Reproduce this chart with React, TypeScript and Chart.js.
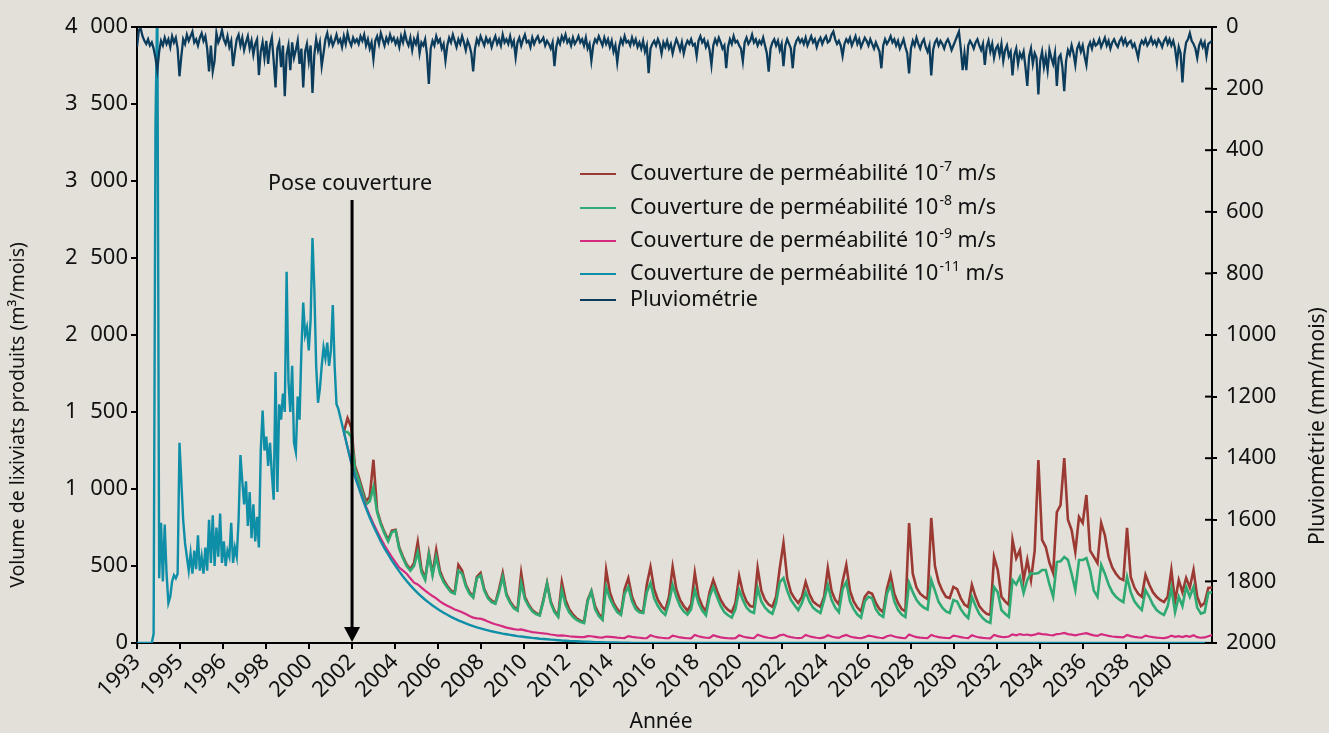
import React, { useEffect, useRef } from 'react';
import { Chart, registerables } from 'chart.js';

Chart.register(...registerables);

// ---------- DATA ----------
const TICK_LABELS = ['1993', '1995', '1996', '1998', '2000', '2002', '2004', '2006', '2008', '2010', '2012', '2014', '2016', '2018', '2020', '2022', '2024', '2026', '2028', '2030', '2032', '2034', '2036', '2038', '2040'];

// Pluviométrie (mm/mois), monthly samples from start of 1993
const RAIN = [
  65, 10, 5, 30, 45, 55, 40, 60, 50, 70, 100, 140, 80, 45, 60, 35, 55, 40, 65, 30,
  50, 35, 70, 160, 95, 40, 55, 25, 45, 30, 15, 50, 40, 60, 35, 20, 45, 30, 70, 144,
  60, 144, 110, 20, 50, 35, 10, 40, 55, 30, 65, 45, 127, 80, 40, 25, 60, 35, 75, 50,
  30, 70, 45, 90, 55, 40, 156, 80, 50, 100, 45, 120, 60, 35, 110, 196, 70, 50, 130, 60,
  225, 90, 60, 140, 50, 100, 75, 45, 120, 70, 196, 80, 55, 110, 60, 214, 90, 40, 75, 50,
  127, 85, 40, 20, 55, 35, 60, 45, 25, 50, 40, 65, 30, 55, 20, 45, 60, 35, 50, 40,
  55, 30, 45, 25, 60, 40, 70, 50, 104, 45, 30, 55, 20, 40, 60, 35, 50, 25, 45, 35,
  55, 40, 65, 30, 50, 20, 45, 60, 35, 75, 40, 55, 30, 85, 50, 60, 40, 90, 185, 70,
  45, 60, 30, 50, 40, 70, 55, 109, 60, 35, 50, 25, 45, 65, 40, 55, 30, 50, 75, 45,
  60, 85, 144, 70, 40, 55, 30, 45, 60, 35, 50, 40, 65, 45, 30, 55, 40, 60, 25, 50,
  40, 55, 30, 60, 45, 98, 50, 35, 60, 40, 25, 50, 45, 65, 35, 55, 40, 30, 50, 45,
  35, 60, 45, 55, 70, 50, 127, 65, 40, 55, 30, 45, 25, 50, 40, 60, 35, 55, 45, 30,
  50, 40, 60, 35, 70, 55, 109, 60, 40, 50, 30, 45, 60, 35, 55, 40, 65, 45, 80, 60,
  115, 65, 40, 55, 30, 50, 45, 60, 35, 55, 40, 65, 50, 70, 45, 80, 60, 150, 70, 55,
  45, 60, 40, 55, 86, 50, 65, 45, 70, 55, 86, 60, 40, 55, 75, 50, 86, 60, 45, 55,
  40, 60, 55, 94, 45, 30, 50, 40, 65, 50, 75, 123, 60, 40, 55, 35, 50, 70, 60, 134,
  65, 40, 55, 30, 50, 45, 60, 70, 111, 50, 35, 55, 45, 25, 50, 40, 60, 45, 55, 35,
  60, 85, 145, 70, 50, 40, 60, 45, 75, 55, 127, 60, 40, 55, 70, 134, 65, 45, 35, 50,
  40, 55, 35, 60, 45, 30, 50, 40, 65, 45, 35, 55, 40, 30, 50, 45, 25, 15, 40, 55,
  45, 60, 94, 55, 40, 50, 35, 60, 45, 30, 55, 40, 65, 50, 35, 45, 60, 40, 55, 70,
  50, 65, 80, 134, 60, 40, 55, 45, 30, 50, 40, 60, 45, 70, 55, 40, 65, 85, 151, 70,
  45, 60, 35, 55, 70, 50, 40, 65, 80, 60, 157, 75, 50, 40, 60, 45, 55, 70, 50, 40,
  55, 75, 60, 45, 30, 15, 70, 140, 85, 140, 60, 45, 55, 70, 50, 40, 60, 75, 55, 123,
  65, 45, 80, 55, 100, 70, 60, 90, 55, 110, 75, 60, 95, 80, 157, 90, 70, 120, 85, 100,
  80, 130, 191, 95, 70, 120, 85, 100, 219, 110, 80, 130, 95, 140, 75, 100, 120, 85, 191, 100,
  90, 130, 208, 110, 75, 90, 60, 85, 123, 70, 55, 80, 60, 95, 123, 65, 50, 70, 45, 60,
  55, 40, 65, 50, 35, 60, 45, 70, 50, 40, 55, 65, 45, 35, 55, 40, 60, 50, 45, 65,
  55, 75, 100, 60, 45, 55, 40, 60, 50, 35, 55, 45, 60, 40, 50, 65, 45, 35, 55, 40,
  60, 45, 70, 117, 65, 85, 180, 90, 50, 40, 20, 45, 55, 70, 100, 60, 45, 65, 50, 94,
  55, 50, 45,
];

// Leachate before the cover (m3/mois), monthly samples from start of 1993
const PRE_COVER = [
  0, 0, 0, 0, 0, 0, 0, 0, 0, 60,
  3350, 4200, 420, 780, 400, 770, 450, 260, 300, 400,
  440, 420, 450, 1300, 1050, 800, 650, 560, 470, 580,
  450, 600, 480, 700, 470, 560, 450, 620, 470, 800,
  520, 830, 500, 750, 560, 840, 520, 660, 500, 600,
  560, 780, 520, 620, 560, 800, 1220, 1050, 900, 1050,
  760, 980, 680, 900, 660, 820, 620, 1250, 1510, 1250,
  1340, 1150, 1300, 1100, 930, 1760, 980, 1550, 1450, 1620,
  1500, 2410, 1700, 1500, 1800, 1300, 1240, 1600, 1450, 1900,
  2210, 2000, 2050, 1900, 2100, 2630, 2300, 1800, 1560, 1650,
  1800, 1920, 1850, 1950, 1800, 1900, 2195, 1800, 1550, 1520,
  1470, 1420,
];

// After the cover: bimonthly samples, first one at bimonthly index COVER_START
const COVER_START = 56;

// Couverture 10^-11 m/s
const COVER_11 = [
  1370, 1270, 1170, 1080,
  1010, 940, 875, 815, 760, 710, 660, 615, 575, 535,
  500, 465, 432, 402, 374, 348, 324, 302, 281, 262,
  244, 227, 211, 196, 183, 170, 158, 147, 137, 127,
  118, 110, 102, 95, 88, 82, 76, 71, 66, 61,
  57, 53, 49, 45, 42, 39, 36, 33, 31, 28,
  26, 24, 22, 20, 18, 16, 15, 13, 12, 11,
  10, 9, 8, 7, 6, 5, 5, 4, 4, 3,
  3, 2, 2, 2, 1, 1, 1, 1, 1, 0,
  0, 0, 0, 0, 0, 0, 0, 0, 0, 0,
  0, 0, 0, 0, 0, 0, 0, 0, 0, 0,
  0, 0, 0, 0, 0, 0, 0, 0, 0, 0,
  0, 0, 0, 0, 0, 0, 0, 0, 0, 0,
  0, 0, 0, 0, 0, 0, 0, 0, 0, 0,
  0, 0, 0, 0, 0, 0, 0, 0, 0, 0,
  0, 0, 0, 0, 0, 0, 0, 0, 0, 0,
  0, 0, 0, 0, 0, 0, 0, 0, 0, 0,
  0, 0, 0, 0, 0, 0, 0, 0, 0, 0,
  0, 0, 0, 0, 0, 0, 0, 0, 0, 0,
  0, 0, 0, 0, 0, 0, 0, 0, 0, 0,
  0, 0, 0, 0, 0, 0, 0, 0, 0, 0,
  0, 0, 0, 0, 0, 0, 0, 0, 0, 0,
  0, 0, 0, 0, 0, 0, 0, 0, 0, 0,
  0, 0, 0, 0, 0, 0, 0, 0, 0, 0,
  0, 0, 0, 0, 0, 0, 0, 0, 0, 0,
  0, 0,
];

// Couverture 10^-9 m/s
const COVER_9 = [
  1370, 1270, 1170, 1085, 1015, 950, 885, 828, 775, 725,
  678, 635, 595, 558, 523, 490, 470, 450, 420, 392,
  380, 360, 340, 322, 305, 290, 270, 255, 242, 230,
  218, 210, 200, 188, 176, 165, 160, 158, 150, 140,
  130, 122, 115, 108, 100, 95, 90, 86, 88, 82,
  76, 71, 68, 65, 62, 60, 55, 52, 48, 50,
  47, 44, 42, 40, 38, 38, 45, 44, 40, 36,
  35, 42, 40,
  38, 35, 33, 32, 45, 40, 36, 34, 32, 31,
  50, 42, 37, 34, 32, 31, 48, 42, 36, 33, 31,
  30, 52, 44, 38, 34, 33, 50, 43, 37, 33,
  31, 30, 32, 50, 42, 36, 33, 31, 54, 45,
  38, 34, 32, 36, 50, 55, 44, 38, 34, 32,
  34, 52, 44, 38, 34, 32, 36, 50, 42, 36,
  33, 45, 52, 42, 36, 33, 31, 38, 48, 44,
  38, 34, 32, 44, 50, 42, 36, 33, 31, 55,
  45, 38, 35, 33, 32, 52, 44, 38, 35, 33,
  32, 48, 44, 38, 34, 32, 50, 42, 36, 33,
  31, 30, 52, 45, 40, 38, 42, 56, 50, 58,
  52, 55, 50, 54, 62, 58, 56, 52, 50, 58,
  60, 65, 58, 54, 50, 55, 60, 64, 56, 50,
  46, 58, 52, 46, 42, 40, 38, 36, 52, 45,
  40, 37, 35, 48, 42, 38, 35, 33, 32, 36,
  48, 40, 44, 38, 46, 40, 50, 38, 34, 36,
  44, 52,
];

// Couverture 10^-7 m/s
const COVER_7 = [
  1370, 1460, 1400, 1150, 1080, 1000, 920, 950, 1190, 860,
  780, 720, 670, 730, 735, 620, 560, 510, 480, 520,
  656, 480, 420, 584, 450, 604, 470, 410, 370, 340,
  330, 507, 470, 380, 330, 300, 430, 455, 350, 300,
  275, 260, 350, 455, 320, 270, 235, 215, 455, 300,
  250, 215, 195, 182, 280, 390, 270, 210, 175, 396,
  280, 220, 185, 160, 145, 136, 280, 338, 240, 190,
  160, 474, 330, 260, 220, 190, 350, 420, 300, 240,
  210, 200, 380, 494, 350, 280, 240, 214, 300, 494,
  350, 280, 240, 210, 250, 455, 300, 240, 205, 330,
  409, 340, 280, 240, 215, 200, 260, 435, 330, 270,
  240, 234, 487, 340, 280, 250, 235, 300, 487, 649,
  420, 330, 290, 260, 300, 396, 320, 270, 250, 235,
  300, 487, 340, 280, 250, 400, 507, 340, 270, 230,
  205, 300, 331, 320, 260, 220, 200, 350, 442, 320,
  260, 220, 205, 779, 450, 360, 320, 300, 285, 812,
  500, 396, 340, 300, 292, 364, 350, 290, 250, 234,
  377, 300, 240, 210, 190, 182, 558, 474, 300, 270,
  247, 669, 550, 604, 409, 539, 409, 600, 1188, 669,
  623, 520, 455, 850, 896, 1201, 800, 734, 591, 818,
  779, 961, 600, 560, 519, 779, 700, 560, 490, 450,
  420, 409, 747, 429, 360, 320, 300, 442, 380, 330,
  300, 280, 266, 300, 474, 270, 409, 330, 422, 360,
  474, 300, 240, 260, 357, 360,
];

// Couverture 10^-8 m/s
const COVER_8 = [
  1370, 1370, 1340, 1130, 1060, 980, 900, 920, 1010, 850,
  770, 710, 660, 720, 730, 610, 550, 500, 470, 500,
  591, 460, 410, 570, 440, 560, 450, 395, 360, 330,
  320, 470, 450, 370, 320, 295, 420, 440, 340, 290,
  265, 255, 330, 430, 310, 260, 225, 210, 390, 285,
  240, 205, 188, 178, 270, 385, 260, 200, 170, 344,
  250, 200, 170, 150, 138, 130, 270, 335, 220, 175,
  150, 364, 290, 240, 200, 182, 320, 364, 270, 220,
  200, 195, 330, 390, 290, 240, 205, 182, 260, 377,
  300, 240, 205, 185, 220, 344, 260, 210, 180, 300,
  364, 300, 240, 200, 180, 165, 220, 344, 280, 230,
  205, 195, 357, 270, 230, 205, 190, 260, 396, 422,
  340, 280, 245, 214, 260, 331, 270, 230, 210, 195,
  280, 377, 280, 230, 200, 350, 396, 270, 220, 185,
  165, 270, 300, 290, 220, 185, 170, 320, 377, 270,
  215, 185, 169, 390, 330, 280, 250, 230, 218, 409,
  340, 266, 230, 205, 195, 279, 270, 220, 185, 162,
  300, 240, 190, 160, 140, 130, 364, 330, 214, 190,
  169, 409, 380, 429, 325, 409, 455, 450, 455, 474,
  474, 380, 300, 526, 530, 558, 540, 450, 344, 539,
  540, 552, 470, 340, 300, 507, 450, 380, 330, 300,
  280, 266, 429, 330, 270, 240, 214, 344, 300, 250,
  214, 195, 182, 240, 357, 200, 300, 240, 364, 300,
  364, 230, 190, 200, 325, 330,
];

const LEGEND_BASE = ['Couverture de perméabilité 10', 'Couverture de perméabilité 10', 'Couverture de perméabilité 10', 'Couverture de perméabilité 10', 'Pluviométrie'];
const LEGEND_SUP = ['-7', '-8', '-9', '-11', ''];
const LEGEND_TAIL = [' m/s', ' m/s', ' m/s', ' m/s', ''];

// ---------- STYLE / LAYOUT ----------
const BG = '#e3dfd9';
const C_RED = '#9b3a33';
const C_GREEN = '#2faa72';
const C_MAGENTA = '#d42a7f';
const C_CYAN = '#0f8ea7';
const C_RAIN = '#0c3c5c';
const COLORS = [C_RED, C_GREEN, C_MAGENTA, C_CYAN, C_RAIN];
const FONT = '"Noto Sans", "Open Sans", sans-serif';
const W = 1329;
const H = 733;
const X_MAX = COVER_START + COVER_7.length - 1;
const MONTHLY = 2; // monthly samples per bimonthly x unit
const TICK_STEP = 11.643;
const ANNOT_TICK = 5;

const fmtThousands = (v: number) => {
  if (v >= 1000) {
    const t = Math.floor(v / 1000);
    const r = String(v % 1000).padStart(3, '0');
    return `${t}\u2007${r}`;
  }
  return String(v);
};

const pts = (arr: number[], start = 0, per = 1) => arr.map((v, j) => ({ x: start + j / per, y: v }));

const overlayPlugin = {
  id: 'overlay',
  beforeDraw(chart: any) {
    const { ctx } = chart;
    ctx.save();
    ctx.fillStyle = BG;
    ctx.fillRect(0, 0, chart.width, chart.height);
    ctx.restore();
  },
  afterDraw(chart: any) {
    const { ctx, chartArea, scales } = chart;
    const xs = scales.x;
    const yr = scales.yRain;
    ctx.save();
    // top frame line
    ctx.strokeStyle = '#000';
    ctx.lineWidth = 2;
    ctx.beginPath();
    ctx.moveTo(chartArea.left - 1, chartArea.top);
    ctx.lineTo(chartArea.right + 1, chartArea.top);
    ctx.stroke();
    // inner part of right axis ticks
    yr.ticks.forEach((t: any) => {
      const py = yr.getPixelForValue(t.value);
      ctx.beginPath();
      ctx.moveTo(chartArea.right - 7, py);
      ctx.lineTo(chartArea.right, py);
      ctx.stroke();
    });

    // annotation arrow
    const ax = xs.getPixelForValue(TICK_STEP * ANNOT_TICK);
    ctx.fillStyle = '#000';
    ctx.lineWidth = 3;
    ctx.beginPath();
    ctx.moveTo(ax, 200);
    ctx.lineTo(ax, chartArea.bottom - 14);
    ctx.stroke();
    ctx.beginPath();
    ctx.moveTo(ax - 8, chartArea.bottom - 16);
    ctx.lineTo(ax + 8, chartArea.bottom - 16);
    ctx.lineTo(ax, chartArea.bottom - 1);
    ctx.closePath();
    ctx.fill();
    ctx.font = `21.5px ${FONT}`;
    ctx.fillStyle = '#111';
    ctx.textAlign = 'center';
    ctx.textBaseline = 'middle';
    ctx.fillText('Pose couverture', ax - 2, 184);

    // legend
    const rows = [174, 208, 241, 274, 300];
    LEGEND_BASE.forEach((base, i) => {
      const y = rows[i];
      ctx.strokeStyle = COLORS[i];
      ctx.lineWidth = 2;
      ctx.beginPath();
      ctx.moveTo(580, y);
      ctx.lineTo(616, y);
      ctx.stroke();
      ctx.textAlign = 'left';
      ctx.textBaseline = 'middle';
      ctx.fillStyle = '#111';
      ctx.font = `21.5px ${FONT}`;
      let x = 630;
      ctx.fillText(base, x, y);
      x += ctx.measureText(base).width;
      if (LEGEND_SUP[i]) {
        ctx.font = `14px ${FONT}`;
        ctx.fillText(LEGEND_SUP[i], x + 1, y - 7);
        x += ctx.measureText(LEGEND_SUP[i]).width + 1;
        ctx.font = `21.5px ${FONT}`;
        ctx.fillText(LEGEND_TAIL[i], x, y);
      }
    });

    // axis titles
    ctx.fillStyle = '#111';
    ctx.font = `19.5px ${FONT}`;
    ctx.textAlign = 'center';
    ctx.textBaseline = 'middle';
    ctx.save();
    ctx.translate(18, 415);
    ctx.rotate(-Math.PI / 2);
    ctx.fillText('Volume de lixiviats produits (m³/mois)', 0, 0);
    ctx.restore();
    ctx.save();
    ctx.translate(1318, 426);
    ctx.rotate(-Math.PI / 2);
    ctx.font = `21px ${FONT}`;
    ctx.fillText('Pluviométrie (mm/mois)', 0, 0);
    ctx.restore();
    ctx.font = `21px ${FONT}`;
    ctx.fillText('Année', 661, 722);
    ctx.restore();
  },
};

export default function App() {
  const ref = useRef<HTMLCanvasElement | null>(null);
  useEffect(() => {
    if (!ref.current) return;
    const tickFont = { family: FONT, size: 22 };
    const cyanData = [...pts(PRE_COVER, 0, MONTHLY), ...pts(COVER_11, COVER_START)];
    const chart = new Chart(ref.current, {
      type: 'line',
      data: {
        datasets: [
          { label: 'Couverture de perméabilité 10⁻⁷ m/s', data: pts(COVER_7, COVER_START), borderColor: C_RED, borderWidth: 2.6, order: 5, yAxisID: 'y' },
          { label: 'Couverture de perméabilité 10⁻⁸ m/s', data: pts(COVER_8, COVER_START), borderColor: C_GREEN, borderWidth: 2.6, order: 4, yAxisID: 'y' },
          { label: 'Couverture de perméabilité 10⁻⁹ m/s', data: pts(COVER_9, COVER_START), borderColor: C_MAGENTA, borderWidth: 2.2, order: 3, yAxisID: 'y' },
          { label: 'Couverture de perméabilité 10⁻¹¹ m/s', data: cyanData, borderColor: C_CYAN, borderWidth: 2.4, order: 2, yAxisID: 'y' },
          { label: 'Pluviométrie', data: pts(RAIN, 0, MONTHLY), borderColor: C_RAIN, borderWidth: 2.3, order: 1, yAxisID: 'yRain' },
        ] as any,
      },
      options: {
        animation: false,
        responsive: false,
        devicePixelRatio: 1,
        parsing: false as any,
        elements: { point: { radius: 0 }, line: { tension: 0, fill: false } },
        layout: { padding: { top: 27, left: 0, right: 0, bottom: 0 } },
        plugins: { legend: { display: false }, tooltip: { enabled: false } },
        scales: {
          x: {
            type: 'linear',
            min: 0,
            max: X_MAX,
            afterBuildTicks: (s: any) => {
              s.ticks = TICK_LABELS.map((_, k) => ({ value: k * TICK_STEP }));
            },
            afterFit: (s: any) => { s.height = 90; },
            ticks: {
              autoSkip: false,
              maxRotation: 45,
              minRotation: 45,
              padding: 0,
              color: '#111',
              font: tickFont,
              callback: (_v: any, i: number) => TICK_LABELS[i],
            },
            grid: { display: true, drawOnChartArea: false, drawTicks: true, tickLength: 6, color: '#000', lineWidth: 2 },
            border: { display: true, color: '#000', width: 2 },
          },
          y: {
            position: 'left',
            min: 0,
            max: 4000,
            afterFit: (s: any) => { s.width = 137; },
            ticks: { stepSize: 500, padding: 3, color: '#111', font: tickFont, callback: (v: any) => fmtThousands(Number(v)) },
            grid: { display: true, drawOnChartArea: false, drawTicks: true, tickLength: 6, color: '#000', lineWidth: 2 },
            border: { display: true, color: '#000', width: 2 },
          },
          yRain: {
            position: 'right',
            reverse: true,
            min: 0,
            max: 2000,
            afterFit: (s: any) => { s.width = W - 1212; },
            ticks: { stepSize: 200, padding: 9, color: '#111', font: tickFont, callback: (v: any) => String(v) },
            grid: { display: true, drawOnChartArea: false, drawTicks: true, tickLength: 5, color: '#000', lineWidth: 2 },
            border: { display: true, color: '#000', width: 2 },
          },
        } as any,
      },
      plugins: [overlayPlugin],
    });
    return () => chart.destroy();
  }, []);
  return (
    <div style={{ position: 'fixed', left: 0, top: 0, width: W, height: H, background: BG }}>
      <canvas ref={ref} width={W} height={H} style={{ display: 'block' }} />
    </div>
  );
}
